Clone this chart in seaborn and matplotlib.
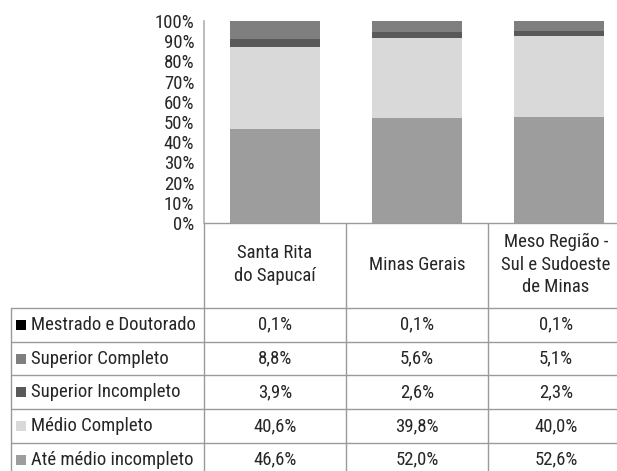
import matplotlib
matplotlib.use("Agg")
import matplotlib.pyplot as plt
from matplotlib import font_manager as fm
import seaborn as sns
import numpy as np
import pandas as pd

# ---- data ----
regions = ["Santa Rita\ndo Sapucaí", "Minas Gerais", "Meso Região -\nSul e Sudoeste\nde Minas"]
levels = ["Mestrado e Doutorado", "Superior Completo", "Superior Incompleto",
          "Médio Completo", "Até médio incompleto"]
mestrado = [0.1, 0.1, 0.1]
sup_completo = [8.8, 5.6, 5.1]
sup_incompleto = [3.9, 2.6, 2.3]
medio_completo = [40.6, 39.8, 40.0]
ate_medio = [46.6, 52.0, 52.6]
labels_pct = {
    "Mestrado e Doutorado": ["0,1%", "0,1%", "0,1%"],
    "Superior Completo": ["8,8%", "5,6%", "5,1%"],
    "Superior Incompleto": ["3,9%", "2,6%", "2,3%"],
    "Médio Completo": ["40,6%", "39,8%", "40,0%"],
    "Até médio incompleto": ["46,6%", "52,0%", "52,6%"],
}
yticks = [0, 10, 20, 30, 40, 50, 60, 70, 80, 90, 100]

colors = {
    "Mestrado e Doutorado": "#000000",
    "Superior Completo": "#7f7f7f",
    "Superior Incompleto": "#595959",
    "Médio Completo": "#d9d9d9",
    "Até médio incompleto": "#9d9d9d",
}

sns.set_theme(style="white")

# choose a condensed family if one is installed
names = {f.name for f in fm.fontManager.ttflist}
cand = ["Liberation Sans Narrow", "DejaVu Sans Condensed", "Roboto Condensed",
        "Open Sans Condensed", "Noto Sans Condensed"]
chosen = [c for c in cand if c in names]
narrow = bool(chosen)
plt.rcParams["font.family"] = (chosen[:1] if chosen else []) + ["DejaVu Sans"]
if not narrow:
    plt.rcParams["font.stretch"] = "condensed"
FS = 13.5 if narrow else 11.9

TXT = "#262626"
GRID = "#9a9a9a"

W, H = 617, 471
fig = plt.figure(figsize=(W / 100, H / 100), dpi=100)

# layout constants (pixels)
x_axis = 204
col_w = 142
y_top = 21
y_zero = 223
row_top = 308
row_h = 33.7
x_left = 11

ax = fig.add_axes([x_axis / W, (H - y_zero) / H, 3 * col_w / W, (y_zero - y_top) / H])

series = {
    "Até médio incompleto": ate_medio,
    "Médio Completo": medio_completo,
    "Superior Incompleto": sup_incompleto,
    "Superior Completo": sup_completo,
    "Mestrado e Doutorado": mestrado,
}
order = list(series.keys())
cum = np.zeros(3)
cums = {}
for k in order:
    cum = cum + np.array(series[k])
    cums[k] = cum.copy()

short = ["Santa Rita", "Minas Gerais", "Meso"]
for k in reversed(order):
    df = pd.DataFrame({"regiao": short, "valor": cums[k]})
    sns.barplot(data=df, x="regiao", y="valor", color=colors[k], width=0.63,
                saturation=1, linewidth=0, ax=ax)

ax.set_xlim(-0.5, 2.5)
ax.set_ylim(0, 100)
ax.set_yticks(yticks)
ax.set_yticklabels([f"{t}%" for t in yticks])
ax.tick_params(axis="y", length=0, pad=7, labelsize=FS, colors=TXT)
ax.set_xticks([])
ax.set_xlabel("")
ax.set_ylabel("")
for s in ["top", "right", "bottom"]:
    ax.spines[s].set_visible(False)
ax.spines["left"].set_color("#b0b0b0")
ax.spines["left"].set_linewidth(1.2)

# ---- table ----
tax = fig.add_axes([0, 0, 1, 1])
tax.set_xlim(0, W)
tax.set_ylim(H, 0)
tax.axis("off")

n_rows = len(levels)
y_bottom = row_top + n_rows * row_h
x_right = x_axis + 3 * col_w
lw = 1.0
tax.plot([x_axis, x_right], [y_zero, y_zero], color=GRID, lw=lw)
for i in range(n_rows + 1):
    y = row_top + i * row_h
    tax.plot([x_left, x_right], [y, y], color=GRID, lw=lw)
tax.plot([x_left, x_left], [row_top, y_bottom], color=GRID, lw=lw)
for j in range(4):
    x = x_axis + j * col_w
    tax.plot([x, x], [y_zero, y_bottom], color=GRID, lw=lw)

header_x = [x_axis + 0.5 * col_w, x_axis + 1.5 * col_w, x_axis + 2.5 * col_w - 3]
for j, r in enumerate(regions):
    tax.text(header_x[j], (y_zero + row_top) / 2 - 1, r,
             ha="center", va="center", fontsize=FS, color=TXT, linespacing=1.3)

for i, lev in enumerate(levels):
    yc = row_top + (i + 0.5) * row_h
    tax.add_patch(plt.Rectangle((16, yc - 5), 10, 10, color=colors[lev], lw=0))
    tax.text(31, yc, lev, ha="left", va="center", fontsize=FS, color=TXT)
    for j in range(3):
        tax.text(header_x[j], yc, labels_pct[lev][j],
                 ha="center", va="center", fontsize=FS, color=TXT)

fig.savefig("out.png", dpi=100)
